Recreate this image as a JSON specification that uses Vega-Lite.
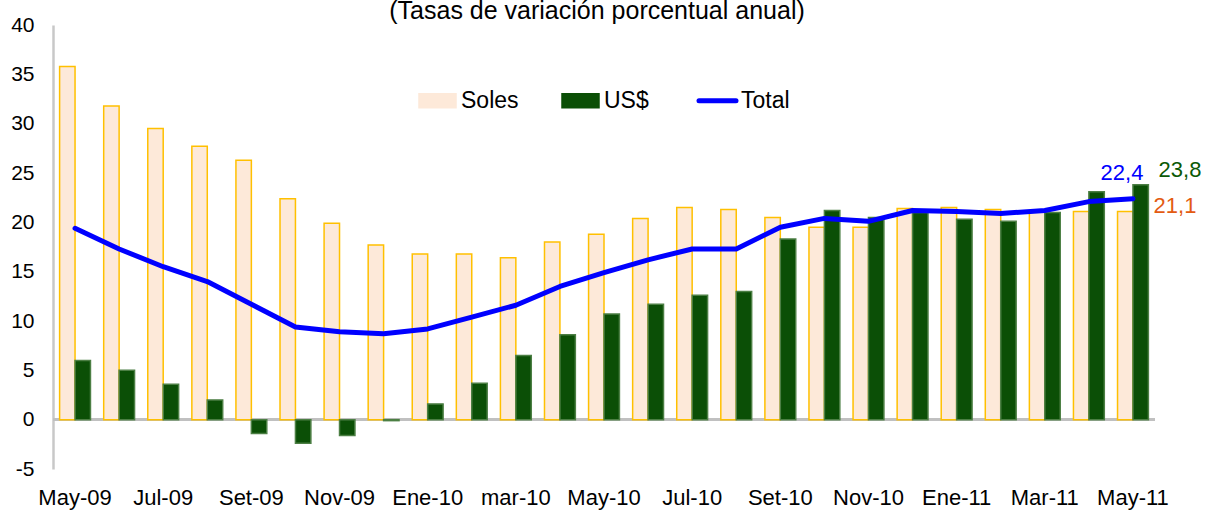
{
  "$schema": "https://vega.github.io/schema/vega-lite/v6.json",
  "width": 1102,
  "height": 444,
  "autosize": {"type": "none"},
  "padding": {"left": 53, "top": 25, "right": 52, "bottom": 45},
  "background": "white",
  "title": {
    "text": "(Tasas de variación porcentual anual)",
    "font": "Liberation Sans",
    "fontSize": 25,
    "fontWeight": "normal",
    "color": "#000000",
    "anchor": "middle",
    "dx": -7,
    "dy": 10,
    "offset": 0
  },
  "config": {
    "view": {"stroke": null},
    "locale": {"number": {"decimal": ",", "thousands": ".", "grouping": [3], "currency": ["", ""], "minus": "-"}},
    "font": "Liberation Sans"
  },
  "data": {
    "values": [
      {"mes": "May-09", "serie": "Soles", "valor": 35.8}, {"mes": "May-09", "serie": "US$", "valor": 6.0}, {"mes": "May-09", "serie": "Total", "valor": 19.4},
      {"mes": "Jun-09", "serie": "Soles", "valor": 31.8}, {"mes": "Jun-09", "serie": "US$", "valor": 5.0}, {"mes": "Jun-09", "serie": "Total", "valor": 17.3},
      {"mes": "Jul-09", "serie": "Soles", "valor": 29.5}, {"mes": "Jul-09", "serie": "US$", "valor": 3.6}, {"mes": "Jul-09", "serie": "Total", "valor": 15.5},
      {"mes": "Ago-09", "serie": "Soles", "valor": 27.7}, {"mes": "Ago-09", "serie": "US$", "valor": 2.0}, {"mes": "Ago-09", "serie": "Total", "valor": 14.0},
      {"mes": "Set-09", "serie": "Soles", "valor": 26.3}, {"mes": "Set-09", "serie": "US$", "valor": -1.4}, {"mes": "Set-09", "serie": "Total", "valor": 11.7},
      {"mes": "Oct-09", "serie": "Soles", "valor": 22.4}, {"mes": "Oct-09", "serie": "US$", "valor": -2.4}, {"mes": "Oct-09", "serie": "Total", "valor": 9.4},
      {"mes": "Nov-09", "serie": "Soles", "valor": 19.9}, {"mes": "Nov-09", "serie": "US$", "valor": -1.6}, {"mes": "Nov-09", "serie": "Total", "valor": 8.9},
      {"mes": "Dic-09", "serie": "Soles", "valor": 17.7}, {"mes": "Dic-09", "serie": "US$", "valor": -0.1}, {"mes": "Dic-09", "serie": "Total", "valor": 8.7},
      {"mes": "Ene-10", "serie": "Soles", "valor": 16.8}, {"mes": "Ene-10", "serie": "US$", "valor": 1.6}, {"mes": "Ene-10", "serie": "Total", "valor": 9.2},
      {"mes": "Feb-10", "serie": "Soles", "valor": 16.8}, {"mes": "Feb-10", "serie": "US$", "valor": 3.7}, {"mes": "Feb-10", "serie": "Total", "valor": 10.4},
      {"mes": "mar-10", "serie": "Soles", "valor": 16.4}, {"mes": "mar-10", "serie": "US$", "valor": 6.5}, {"mes": "mar-10", "serie": "Total", "valor": 11.6},
      {"mes": "Abr-10", "serie": "Soles", "valor": 18.0}, {"mes": "Abr-10", "serie": "US$", "valor": 8.6}, {"mes": "Abr-10", "serie": "Total", "valor": 13.5},
      {"mes": "May-10", "serie": "Soles", "valor": 18.8}, {"mes": "May-10", "serie": "US$", "valor": 10.7}, {"mes": "May-10", "serie": "Total", "valor": 14.9},
      {"mes": "Jun-10", "serie": "Soles", "valor": 20.4}, {"mes": "Jun-10", "serie": "US$", "valor": 11.7}, {"mes": "Jun-10", "serie": "Total", "valor": 16.2},
      {"mes": "Jul-10", "serie": "Soles", "valor": 21.5}, {"mes": "Jul-10", "serie": "US$", "valor": 12.6}, {"mes": "Jul-10", "serie": "Total", "valor": 17.3},
      {"mes": "Ago-10", "serie": "Soles", "valor": 21.3}, {"mes": "Ago-10", "serie": "US$", "valor": 13.0}, {"mes": "Ago-10", "serie": "Total", "valor": 17.3},
      {"mes": "Set-10", "serie": "Soles", "valor": 20.5}, {"mes": "Set-10", "serie": "US$", "valor": 18.3}, {"mes": "Set-10", "serie": "Total", "valor": 19.5},
      {"mes": "Oct-10", "serie": "Soles", "valor": 19.5}, {"mes": "Oct-10", "serie": "US$", "valor": 21.2}, {"mes": "Oct-10", "serie": "Total", "valor": 20.4},
      {"mes": "Nov-10", "serie": "Soles", "valor": 19.5}, {"mes": "Nov-10", "serie": "US$", "valor": 20.5}, {"mes": "Nov-10", "serie": "Total", "valor": 20.1},
      {"mes": "Dic-10", "serie": "Soles", "valor": 21.4}, {"mes": "Dic-10", "serie": "US$", "valor": 21.0}, {"mes": "Dic-10", "serie": "Total", "valor": 21.2},
      {"mes": "Ene-11", "serie": "Soles", "valor": 21.5}, {"mes": "Ene-11", "serie": "US$", "valor": 20.3}, {"mes": "Ene-11", "serie": "Total", "valor": 21.1},
      {"mes": "Feb-11", "serie": "Soles", "valor": 21.3}, {"mes": "Feb-11", "serie": "US$", "valor": 20.1}, {"mes": "Feb-11", "serie": "Total", "valor": 20.9},
      {"mes": "Mar-11", "serie": "Soles", "valor": 21.2}, {"mes": "Mar-11", "serie": "US$", "valor": 21.0}, {"mes": "Mar-11", "serie": "Total", "valor": 21.2},
      {"mes": "Abr-11", "serie": "Soles", "valor": 21.1}, {"mes": "Abr-11", "serie": "US$", "valor": 23.1}, {"mes": "Abr-11", "serie": "Total", "valor": 22.1},
      {"mes": "May-11", "serie": "Soles", "valor": 21.1}, {"mes": "May-11", "serie": "US$", "valor": 23.8}, {"mes": "May-11", "serie": "Total", "valor": 22.4}
    ]
  },
  "encoding": {
    "x": {
      "field": "mes",
      "type": "ordinal",
      "sort": null,
      "scale": {"paddingInner": 0.3, "paddingOuter": 0.15},
      "axis": {
        "title": null,
        "values": ["May-09", "Jul-09", "Set-09", "Nov-09", "Ene-10", "mar-10", "May-10", "Jul-10", "Set-10", "Nov-10", "Ene-11", "Mar-11", "May-11"],
        "labelAngle": 0,
        "labelFont": "Liberation Sans",
        "labelFontSize": 22,
        "labelColor": "#000000",
        "labelPadding": 18,
        "domain": false,
        "ticks": false,
        "grid": false
      }
    },
    "y": {
      "field": "valor",
      "type": "quantitative",
      "stack": null,
      "scale": {"domain": [-5, 40], "nice": false, "zero": false},
      "axis": {
        "title": null,
        "values": [-5, 0, 5, 10, 15, 20, 25, 30, 35, 40],
        "labelFont": "Liberation Sans",
        "labelFontSize": 21,
        "labelColor": "#000000",
        "labelPadding": 19,
        "ticks": false,
        "grid": false,
        "domainColor": "#C8C8C8",
        "domainWidth": 2.5
      }
    }
  },
  "layer": [
    {
      "mark": {"type": "rule", "color": "#C0C0C0", "strokeWidth": 2.5},
      "encoding": {"x": null, "y": {"datum": 0, "type": "quantitative"}}
    },
    {
      "transform": [{"filter": "datum.serie !== 'Total'"}],
      "mark": {"type": "bar", "strokeWidth": 1.5},
      "encoding": {
        "xOffset": {"field": "serie", "type": "nominal", "sort": ["Soles", "US$"], "scale": {"paddingInner": 0, "paddingOuter": 0}},
        "color": {
          "field": "serie",
          "type": "nominal",
          "scale": {"domain": ["Soles", "US$", "Total"], "range": ["#FDE9D9", "#0B4F06", "#0000FF"]},
          "legend": {
            "title": null,
            "orient": "none",
            "legendX": 373,
            "legendY": 64,
            "direction": "horizontal",
            "columns": 3,
            "columnPadding": 40,
            "padding": 0,
            "symbolSize": 1369,
            "symbolType": "M-1,-0.38H1V0.38H-1Z",
            "symbolStrokeColor": "#FFC000",
            "symbolStrokeWidth": 1.5,
            "labelOffset": 12,
            "labelFont": "Liberation Sans",
            "labelFontSize": 23,
            "labelFontWeight": "normal",
            "labelColor": "#000000",
            "encode": {
              "symbols": {
                "update": {
                  "shape": {"signal": "datum.value === 'Total' ? 'M-1,0H1' : 'M-1,-0.38H1V0.38H-1Z'"},
                  "fill": {"signal": "datum.value === 'Soles' ? '#FDE9D9' : datum.value === 'US$' ? '#0B4F06' : 'transparent'"},
                  "stroke": {"signal": "datum.value === 'Soles' ? '#FFC000' : datum.value === 'US$' ? '#0B4F06' : '#0000FF'"},
                  "strokeWidth": {"signal": "datum.value === 'Total' ? 5 : 1.5"},
                  "strokeCap": {"value": "round"},
                  "size": {"value": 1369},
                  "opacity": {"value": 1}
                }
              }
            }
          }
        },
        "stroke": {
          "condition": {"test": "datum.serie === 'Soles'", "value": "#FFC000"},
          "value": "#4C7F44"
        }
      }
    },
    {
      "transform": [{"filter": "datum.serie === 'Total'"}],
      "mark": {"type": "line", "strokeWidth": 5, "strokeJoin": "round", "strokeCap": "round"},
      "encoding": {
        "color": {
          "field": "serie",
          "type": "nominal",
          "legend": {
            "title": null,
            "orient": "none",
            "legendX": 373,
            "legendY": 64,
            "direction": "horizontal",
            "columns": 3,
            "columnPadding": 40,
            "padding": 0,
            "symbolSize": 1369,
            "symbolType": "M-1,-0.38H1V0.38H-1Z",
            "symbolStrokeColor": "#FFC000",
            "symbolStrokeWidth": 1.5,
            "labelOffset": 12,
            "labelFont": "Liberation Sans",
            "labelFontSize": 23,
            "labelFontWeight": "normal",
            "labelColor": "#000000",
            "encode": {
              "symbols": {
                "update": {
                  "shape": {"signal": "datum.value === 'Total' ? 'M-1,0H1' : 'M-1,-0.38H1V0.38H-1Z'"},
                  "fill": {"signal": "datum.value === 'Soles' ? '#FDE9D9' : datum.value === 'US$' ? '#0B4F06' : 'transparent'"},
                  "stroke": {"signal": "datum.value === 'Soles' ? '#FFC000' : datum.value === 'US$' ? '#0B4F06' : '#0000FF'"},
                  "strokeWidth": {"signal": "datum.value === 'Total' ? 5 : 1.5"},
                  "strokeCap": {"value": "round"},
                  "size": {"value": 1369},
                  "opacity": {"value": 1}
                }
              }
            }
          }
        }
      }
    },
    {
      "transform": [{"filter": "datum.mes === 'May-11' && datum.serie === 'Total'"}],
      "mark": {"type": "text", "font": "Liberation Sans", "fontSize": 22, "color": "#0000FF", "align": "center", "baseline": "middle", "dx": -11, "dy": -26},
      "encoding": {"text": {"field": "valor", "type": "quantitative", "format": ".1f"}}
    },
    {
      "transform": [{"filter": "datum.mes === 'May-11' && datum.serie === 'US$'"}],
      "mark": {"type": "text", "font": "Liberation Sans", "fontSize": 22, "color": "#0B5A06", "align": "center", "baseline": "middle", "dx": 47, "dy": -15},
      "encoding": {"text": {"field": "valor", "type": "quantitative", "format": ".1f"}}
    },
    {
      "transform": [{"filter": "datum.mes === 'May-11' && datum.serie === 'Soles'"}],
      "mark": {"type": "text", "font": "Liberation Sans", "fontSize": 22, "color": "#E35B12", "align": "center", "baseline": "middle", "dx": 42, "dy": -5},
      "encoding": {"text": {"field": "valor", "type": "quantitative", "format": ".1f"}}
    }
  ]
}
